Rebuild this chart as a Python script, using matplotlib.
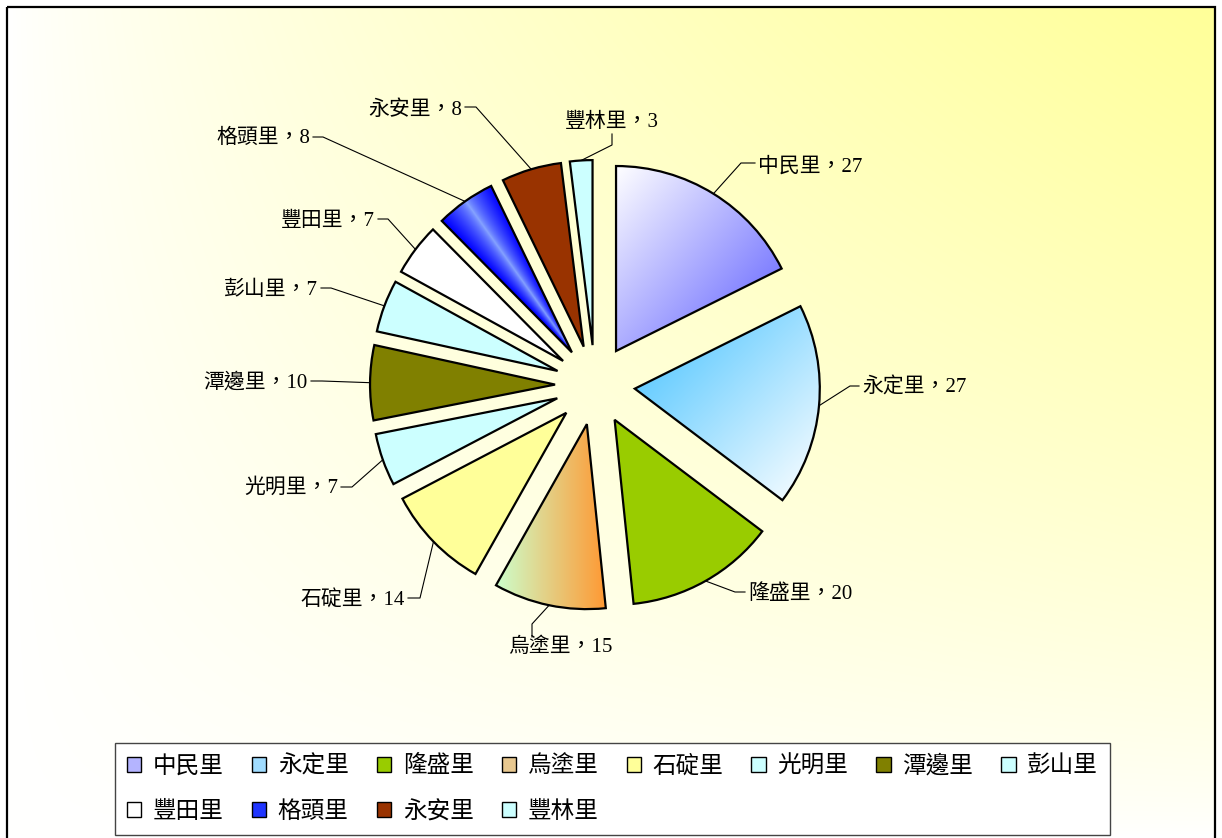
import numpy as np
import matplotlib
matplotlib.use('Agg')
import matplotlib.pyplot as plt
from matplotlib.patches import Rectangle, Patch
from matplotlib.colors import to_rgb

plt.rcParams['font.family'] = ['Liberation Serif', 'Noto Sans CJK TC', 'DejaVu Sans']

# data
villages = ['中民里', '永定里', '隆盛里', '烏塗里', '石碇里', '光明里',
            '潭邊里', '彭山里', '豐田里', '格頭里', '永安里', '豐林里']
counts = [27, 27, 20, 15, 14, 7, 10, 7, 7, 8, 8, 3]

# solid colours (also used for legend keys of gradient slices)
colors = ['#b4b4ff', '#a0dcff', '#99cc00', '#e8c890', '#ffff99', '#ccffff',
          '#808000', '#ccffff', '#ffffff', '#2035ff', '#993300', '#ccffff']

# label layout in pixels: text x, text y, ha, va, elbow x, elbow y
label_layout = [
    (758, 167, 'left', 'center', 741, 163),
    (862, 388, 'left', 'center', 850, 386),
    (748, 594, 'left', 'center', 735, 592),
    (560, 638, 'center', 'top', 532, 624),
    (405, 601, 'right', 'center', 420, 598),
    (338, 488, 'right', 'center', 352, 487),
    (308, 383, 'right', 'center', 322, 381),
    (318, 290, 'right', 'center', 331, 288),
    (375, 221, 'right', 'center', 388, 219),
    (310, 138, 'right', 'center', 323, 137),
    (462, 110, 'right', 'center', 476, 107),
    (612, 132, 'center', 'bottom', 612, 145),
]

W, H = 1222, 838
CX, CY, R = 595, 385, 185   # pie centre / radius in pixels

fig = plt.figure(figsize=(W / 100, H / 100), dpi=100)

# background with corner gradient
ax_bg = fig.add_axes([0, 0, 1, 1])
ax_bg.set_xlim(0, W)
ax_bg.set_ylim(H, 0)
ax_bg.axis('off')
gx, gy = np.meshgrid(np.linspace(0, 1, 300), np.linspace(0, 1, 200))
t = (gx * (1 - gy)) ** 0.75
white = np.array([1.0, 1.0, 1.0])
yellow = np.array([1.0, 1.0, 0.6])
bg = white[None, None, :] * (1 - t[..., None]) + yellow[None, None, :] * t[..., None]
ax_bg.imshow(bg, extent=(8, 1215, H, 8), origin='upper', aspect='auto', interpolation='bilinear')
ax_bg.add_patch(Rectangle((7, 7), 1208, 845, fill=False, edgecolor='black', lw=1.6))

# pie axes
xr, yr = 3.1, 2.0
ax = fig.add_axes([(CX - xr * R) / W, (H - (CY + yr * R)) / H, 2 * xr * R / W, 2 * yr * R / H])
wedges, _ = ax.pie(counts, colors=colors, startangle=90, counterclock=False,
                   explode=[0.216] * len(counts), radius=1,
                   wedgeprops=dict(edgecolor='black', linewidth=1.6))
ax.set_xlim(-xr, xr)
ax.set_ylim(-yr, yr)
ax.set_aspect('equal', adjustable='box')
ax.axis('off')


def gradient_fill(w, tfunc, c0, c1):
    ext = w.get_path().get_extents()
    x0, y0, x1, y1 = ext.x0, ext.y0, ext.x1, ext.y1
    u, v = np.meshgrid(np.linspace(0, 1, 200), np.linspace(0, 1, 200))
    X = x0 + u * (x1 - x0)
    Y = y0 + v * (y1 - y0)
    tt = np.clip(tfunc(u, v, X, Y), 0, 1)[..., None]
    a, b = np.array(to_rgb(c0)), np.array(to_rgb(c1))
    img = a * (1 - tt) + b * tt
    im = ax.imshow(img, extent=(x0, x1, y0, y1), origin='lower',
                   interpolation='bilinear', zorder=0.9)
    im.set_clip_path(w)
    w.set_facecolor('none')


# 中民里: white top-left -> blue bottom-right
gradient_fill(wedges[0], lambda u, v, X, Y: (u + (1 - v)) / 2, '#ffffff', '#5a5aff')
# 永定里: blue top-left -> white bottom-right
gradient_fill(wedges[1], lambda u, v, X, Y: (u + (1 - v)) / 2, '#40c0ff', '#ffffff')
# 烏塗里: horizontal green -> orange
gradient_fill(wedges[3], lambda u, v, X, Y: u, '#ccffcc', '#ff9933')


# 格頭里: bright band along the middle of the slice
def band(w):
    cx, cy = w.center
    mid = np.radians((w.theta1 + w.theta2) / 2)
    half = np.radians((w.theta2 - w.theta1) / 2)

    def f(u, v, X, Y):
        phi = np.arctan2(Y - cy, X - cx)
        d = np.abs(np.angle(np.exp(1j * (phi - mid))))
        return (d / half) ** 0.7
    return f


gradient_fill(wedges[9], band(wedges[9]), '#8aa8ff', '#0000ff')

# labels with leader lines
for w, name, n, (tx, ty, ha, va, ex, ey) in zip(wedges, villages, counts, label_layout):
    mid = np.radians((w.theta1 + w.theta2) / 2)
    ax_x = w.center[0] + w.r * np.cos(mid)
    ax_y = w.center[1] + w.r * np.sin(mid)
    to_d = lambda px, py: ((px - CX) / R, (CY - py) / R)
    exd, eyd = to_d(ex, ey)
    if ha == 'left':
        end = to_d(tx - 3, ey)
    elif ha == 'right':
        end = to_d(tx + 3, ey)
    elif va == 'top':
        end = to_d(ex, ty - 1)
    else:
        end = to_d(ex, ty + 2)
    ax.plot([ax_x, exd, end[0]], [ax_y, eyd, end[1]], color='black', lw=0.8,
            clip_on=False, zorder=3)
    txd, tyd = to_d(tx, ty)
    ax.text(txd, tyd, f'{name}，{n}', ha=ha, va=va, fontsize=15, zorder=4)

# legend (reordered so rows read left to right)
order = [0, 8, 1, 9, 2, 10, 3, 11, 4, 5, 6, 7]
handles = [Patch(facecolor=colors[i], edgecolor='black', lw=1) for i in order]
labels = [villages[i] for i in order]
leg = fig.legend(handles, labels, ncol=8, loc='center',
                 bbox_to_anchor=(115 / W, 1 - 835 / H, 995 / W, 92 / H),
                 mode='expand', borderaxespad=0, fontsize=17, frameon=True,
                 fancybox=False, edgecolor='#444444', framealpha=1,
                 handlelength=0.6, handleheight=0.6, handletextpad=0.5,
                 labelspacing=1.0, borderpad=0.5)
leg.get_frame().set_linewidth(1.0)

fig.savefig('out.png', dpi=100)
